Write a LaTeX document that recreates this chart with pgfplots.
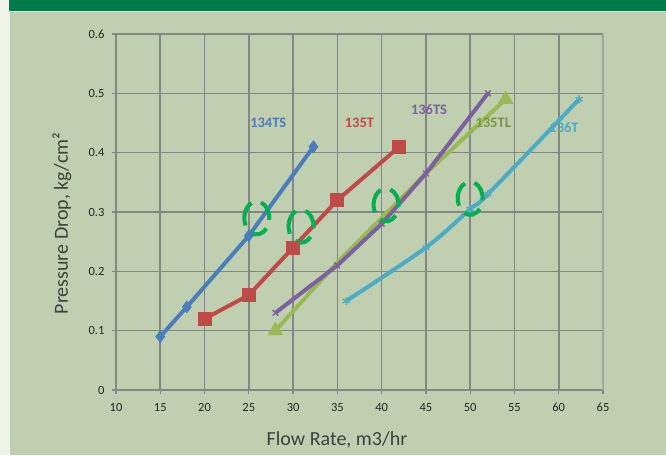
\documentclass[border=0pt]{standalone}
\usepackage{fontspec}
\setmainfont{Carlito}
\usepackage{pgfplots}
\pgfplotsset{compat=1.18}

\definecolor{panel}{RGB}{192,207,175}
\definecolor{strip}{RGB}{240,244,232}
\definecolor{band}{RGB}{0,122,74}
\definecolor{bandline}{RGB}{225,233,215}
\definecolor{gridgray}{RGB}{134,134,134}
\definecolor{edgegray}{RGB}{165,165,165}
\definecolor{textgray}{RGB}{64,64,64}
\definecolor{cblue}{RGB}{74,126,187}
\definecolor{cred}{RGB}{190,75,72}
\definecolor{cgreen}{RGB}{152,185,84}
\definecolor{cpurple}{RGB}{125,96,160}
\definecolor{ccyan}{RGB}{75,172,198}
\definecolor{ring}{RGB}{0,176,80}

% broken ring: left arc, bottom piece, right arc
\newcommand{\ring}[2]{%
  \draw[ring, line width=4pt]
    (axis cs:#1,#2) ++(115:12.5pt and 16.5pt)
      arc[start angle=115, end angle=207, x radius=12.5pt, y radius=16.5pt];
  \draw[ring, line width=4pt]
    (axis cs:#1,#2) ++(243:12.5pt and 16.5pt)
      arc[start angle=243, end angle=320, x radius=12.5pt, y radius=16.5pt];
  \draw[ring, line width=4pt]
    (axis cs:#1,#2) ++(-7:12.5pt and 16.5pt)
      arc[start angle=-7, end angle=70, x radius=12.5pt, y radius=16.5pt];
}

\begin{document}
\begin{tikzpicture}[x=1pt,y=1pt]
\useasboundingbox (0,0) rectangle (666,455);
% page background
\fill[panel] (0,0) rectangle (666,455);
\fill[strip] (0,0) rectangle (10,455);
\fill[band] (9,444) rectangle (666,455);
\fill[bandline] (9,442.5) rectangle (666,444);

\begin{axis}[
  at={(116pt,65pt)}, anchor=south west,
  scale only axis, width=487pt, height=356pt,
  xmin=10, xmax=65, ymin=0, ymax=0.6,
  xtick={10,15,20,25,30,35,40,45,50,55,60,65},
  ytick={0,0.1,0.2,0.3,0.4,0.5,0.6},
  grid=major,
  major grid style={gridgray, line width=1.6pt},
  axis x line*=bottom, axis y line*=left,
  axis line style={gridgray, line width=1.6pt, -},
  tick style={gridgray, line width=1.2pt},
  tick align=outside, major tick length=4pt,
  /pgf/number format/assume math mode=true,
  ticklabel style={font=\fontsize{12.5}{14}\selectfont, text=black!85},
  yticklabel style={/pgf/number format/fixed, /pgf/number format/precision=1, xshift=-4pt},
  xticklabel style={yshift=-6pt},
  clip=false,
]
\draw[edgegray, line width=2.6pt] (axis cs:65,0) -- (axis cs:65,0.6);

% 134TS
\addplot[cblue, line width=4pt, mark=diamond*, mark size=3.2pt]
  coordinates {(15,0.09) (18,0.14) (25,0.26) (32.3,0.41)};
% 135T
\addplot[cred, line width=4pt, mark=square*, mark size=5pt]
  coordinates {(20,0.12) (25,0.16) (30,0.24) (35,0.32) (42,0.41)};
% 135TL
\addplot[cgreen, line width=4pt, mark=triangle*, mark size=5pt, mark indices={1,5}]
  coordinates {(28,0.10) (35,0.215) (40,0.29) (45,0.365) (54,0.49)};
% 136TS
\addplot[cpurple, line width=4pt, mark=x, mark size=4pt, mark options={line width=1.4pt}]
  coordinates {(28,0.13) (35,0.21) (40,0.28) (45,0.365) (52,0.50)};
% 136T
\addplot[ccyan, line width=4pt, smooth, mark=asterisk, mark size=4pt, mark options={line width=1.3pt}]
  coordinates {(36,0.15) (45,0.24) (50,0.305) (52,0.33) (62.3,0.49)};

% series labels
\node[font=\bfseries\fontsize{14.5}{16}\selectfont, text=cblue] at (axis cs:27.2,0.45) {134TS};
\node[font=\bfseries\fontsize{14.5}{16}\selectfont, text=cred] at (axis cs:37.5,0.45) {135T};
\node[font=\bfseries\fontsize{14.5}{16}\selectfont, text=cpurple] at (axis cs:45.35,0.473) {136TS};
\node[font=\bfseries\fontsize{14.5}{16}\selectfont, text=cgreen!80!black] at (axis cs:52.6,0.45) {135TL};
\node[font=\bfseries\fontsize{14.5}{16}\selectfont, text=ccyan] at (axis cs:60.6,0.442) {136T};

% dashed rings
\ring{25.9}{0.290}
\ring{30.9}{0.276}
\ring{40.5}{0.312}
\ring{50.0}{0.323}
\end{axis}

% axis titles
\node[rotate=90, font=\fontsize{20}{24}\selectfont, text=textgray] at (62,231.5) {Pressure Drop, kg/cm²};
\node[font=\fontsize{20}{24}\selectfont, text=textgray] at (337,15) {Flow Rate, m3/hr};
\end{tikzpicture}
\end{document}
